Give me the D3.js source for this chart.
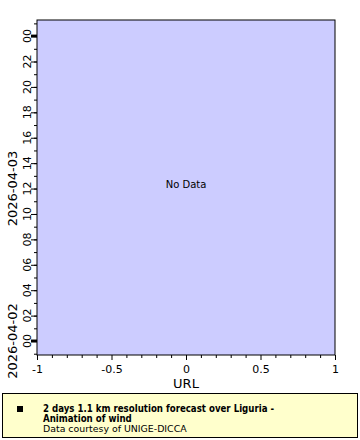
<!DOCTYPE html>
<html>
<head>
<meta charset="utf-8">
<script src="https://cdn.jsdelivr.net/npm/d3@7"></script>
<style>
  body { margin: 0; background: #fff; }
  svg { display: block; font-family: "DejaVu Sans", sans-serif; }
</style>
</head>
<body>
<svg id="chart" width="360" height="440"></svg>
<script>
// x axis (URL) ticks
const xMajor = [-1, -0.5, 0, 0.5, 1];
const xMinor = [-0.9, -0.8, -0.7, -0.6, -0.4, -0.3, -0.2, -0.1, 0.1, 0.2, 0.3, 0.4, 0.6, 0.7, 0.8, 0.9];
// y axis time domain and labels
const yDomain = ["2026-04-01T22:54:00", "2026-04-03T01:16:00"];
const yMajorHours = [0, 2, 4, 6, 8, 10, 12, 14, 16, 18, 20, 22, 24];
const dayTicks = ["2026-04-02T00:00:00", "2026-04-03T00:00:00"];
const dayLabels = [
  { text: "2026-04-02", at: "2026-04-02T00:00:00" },
  { text: "2026-04-03", at: "2026-04-02T12:00:00" }
];
const legendTitle = ["2 days 1.1 km resolution forecast over Liguria -", "Animation of wind"];
const legendNote = "Data courtesy of UNIGE-DICCA";

const svg = d3.select("#chart");
const plotL = 37, plotR = 335, plotT = 20, plotB = 355;

const x = d3.scaleLinear().domain([-1, 1]).range([plotL, plotR]);
const y = d3.scaleTime().domain(yDomain.map(d => new Date(d))).range([plotB, plotT]);
const base = new Date("2026-04-02T00:00:00");
const hourDate = h => new Date(base.getTime() + h * 3600000);

// plot background
svg.append("rect")
    .attr("x", plotL).attr("y", plotT)
    .attr("width", plotR - plotL).attr("height", plotB - plotT)
    .attr("fill", "#ccccff")
    .attr("stroke", "#000")
    .attr("stroke-width", 1);

svg.append("text")
    .attr("x", x(0)).attr("y", 188)
    .attr("text-anchor", "middle")
    .attr("font-size", "10px")
    .text("No Data");

// x axis
const xAxis = svg.append("g").attr("transform", `translate(0,${plotB})`);
xAxis.call(d3.axisBottom(x).tickValues(xMajor).tickSize(5).tickFormat(d => String(d)));
xAxis.append("g").call(d3.axisBottom(x).tickValues(xMinor).tickSize(3).tickFormat(""));
xAxis.selectAll(".domain").remove();
xAxis.selectAll("text").attr("font-size", "11px").attr("fill", "#000").attr("dy", "0.9em")
    .attr("font-family", "DejaVu Sans");
xAxis.selectAll("line").attr("stroke", "#000");

svg.append("text")
    .attr("x", x(0)).attr("y", 388)
    .attr("text-anchor", "middle")
    .attr("font-size", "13px")
    .text("URL");

// y axis
const yAxis = svg.append("g").attr("transform", `translate(${plotL},0)`);
const hourTicks = d3.range(-1, 26).map(hourDate);
yAxis.call(d3.axisLeft(y).tickValues(hourTicks).tickSize(3).tickFormat(""));
yAxis.append("g").call(d3.axisLeft(y).tickValues(yMajorHours.map(hourDate)).tickSize(6).tickFormat(""));
yAxis.selectAll(".domain").remove();
yAxis.selectAll("line").attr("stroke", "#000");
yAxis.selectAll(".day")
    .data(dayTicks)
    .enter()
    .append("line")
    .attr("x1", -6).attr("x2", 0)
    .attr("y1", d => y(new Date(d))).attr("y2", d => y(new Date(d)))
    .attr("stroke", "#000")
    .attr("stroke-width", 3);

yAxis.selectAll(".hlab")
    .data(yMajorHours)
    .enter()
    .append("text")
    .attr("transform", d => `translate(-6,${y(hourDate(d))}) rotate(-90)`)
    .attr("text-anchor", "middle")
    .attr("fill", "#000")
    .attr("font-family", "DejaVu Sans")
    .attr("font-size", "11px")
    .text(d => d3.format("02")(d % 24));

svg.selectAll(".daylab")
    .data(dayLabels)
    .enter()
    .append("text")
    .attr("transform", d => `translate(17,${y(new Date(d.at))}) rotate(-90)`)
    .attr("text-anchor", "middle")
    .attr("font-size", "13px")
    .text(d => d.text);

// legend
const legend = svg.append("g");
legend.append("rect")
    .attr("x", 2.5).attr("y", 393.5)
    .attr("width", 355).attr("height", 44)
    .attr("fill", "#ffffcc")
    .attr("stroke", "#000");
legend.append("rect")
    .attr("x", 17).attr("y", 406)
    .attr("width", 6).attr("height", 6)
    .attr("fill", "#000");
legend.selectAll(".lt")
    .data(legendTitle)
    .enter()
    .append("text")
    .attr("x", 43).attr("y", (d, i) => 412 + i * 10)
    .attr("font-family", "DejaVu Sans Condensed")
    .attr("font-stretch", "condensed")
    .attr("font-size", "9.6px")
    .attr("font-weight", "bold")
    .text(d => d);
legend.append("text")
    .attr("x", 43).attr("y", 432)
    .attr("font-size", "9.4px")
    .text(legendNote);
</script>
</body>
</html>
